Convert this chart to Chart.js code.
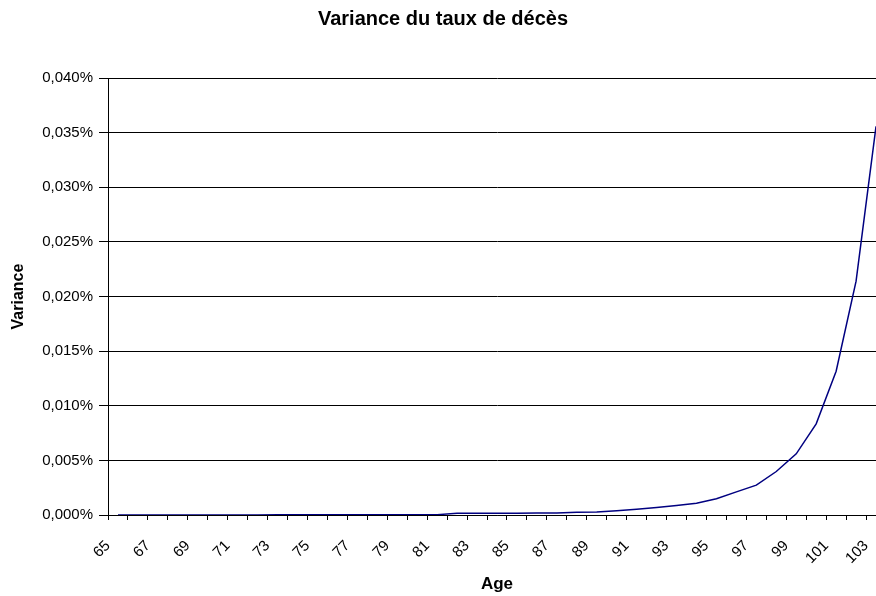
<!DOCTYPE html>
<html>
<head>
<meta charset="utf-8">
<script src="https://cdn.jsdelivr.net/npm/chart.js@4.4.0/dist/chart.umd.min.js"></script>
<style>
html,body{margin:0;padding:0;overflow:hidden;background:#fff;}
#wrap{width:886px;height:596px;}
</style>
</head>
<body>
<div id="wrap"><canvas id="myChart" width="886" height="596"></canvas></div>
<script>
'use strict';
// ages on x axis
const ages=['65','66','67','68','69','70','71','72','73','74','75','76','77','78','79','80','81','82','83','84',
'85','86','87','88','89','90','91','92','93','94','95','96','97','98','99','100','101','102','103'];

// variance of death rate, in percent (0.0356 means 0,0356%)
const variance=[0.00001,0.00001,0.00001,0.00001,0.00001,0.00001,0.00001,0.00001,0.00002,0.00002,
0.00002,0.00002,0.00002,0.00002,0.00003,0.00003,0.00003,0.00016,0.00017,0.00017,
0.00017,0.00018,0.00018,0.00026,0.00027,0.00040,0.00053,0.00068,0.00086,0.00108,
0.00148,0.00212,0.00273,0.00398,0.00560,0.00834,0.01316,0.02140,0.03557];

const yMin=0;
const yMax=0.04;
const yStep=0.005;

const chartTitle='Variance du taux de décès';
const xTitle='Age';
const yTitle='Variance';

Chart.defaults.color='#000';
Chart.defaults.font.family="'Liberation Sans', Arial, sans-serif";

const ctx=document.getElementById('myChart').getContext('2d');
const myChart=new Chart(ctx,{
    type:'line',
    data:{
        labels:ages,
        datasets:[{
            label:yTitle,
            data:variance,
            borderColor:'#000080',
            backgroundColor:'#000080',
            borderWidth:1.5,
            pointRadius:0,
            tension:0,
            fill:false
        }]
    },
    options:{
        responsive:false,
        animation:false,
        layout:{padding:0},
        plugins:{
            legend:{display:false},
            tooltip:{enabled:false},
            title:{
                display:true,
                text:chartTitle,
                font:{size:20,weight:'bold'},
                padding:{top:7,bottom:47}
            }
        },
        scales:{
            x:{
                offset:true,
                grid:{display:true,drawOnChartArea:false,drawTicks:true,tickLength:5,offset:true,color:'#000'},
                border:{display:true,color:'#000',width:1},
                ticks:{
                    autoSkip:false,
                    maxRotation:45,
                    minRotation:45,
                    padding:17,
                    labelOffset:-10,
                    font:{size:15},
                    callback:function(val,index){
                        return index%2===0 ? this.getLabelForValue(val) : '';
                    }
                },
                title:{display:true,text:xTitle,font:{size:17,weight:'bold'},padding:{top:0,bottom:1}},
                afterFit:function(scale){
                    scale.height=81;
                    // the plot runs past the right edge, as in the cropped original
                    scale.paddingLeft=0;
                    scale.paddingRight=0;
                }
            },
            y:{
                min:yMin,
                max:yMax,
                grid:{color:'#000',lineWidth:1,tickLength:9,tickColor:'#000'},
                border:{display:true,color:'#000',width:1},
                ticks:{
                    stepSize:yStep,
                    padding:6,
                    font:{size:15},
                    callback:function(value){
                        return value.toFixed(3).replace('.',',')+'%';
                    }
                },
                title:{display:true,text:yTitle,font:{size:16,weight:'bold'},padding:{top:9,bottom:0}},
                afterFit:function(scale){ scale.width=108; }
            }
        }
    }
});
</script>
</body>
</html>
